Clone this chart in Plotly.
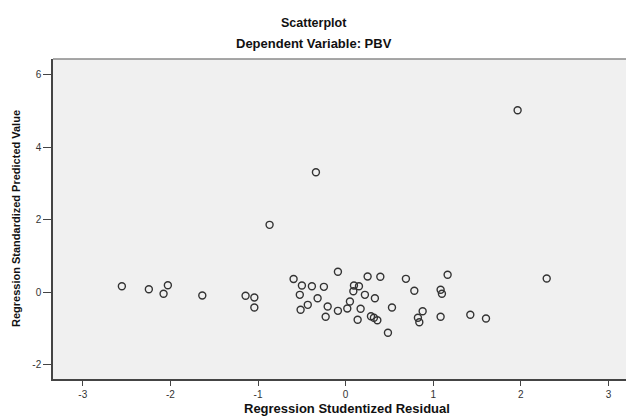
import plotly.graph_objects as go

# Regression Studentized Residual (x) and Regression Standardized Predicted Value (y)
residual = [-2.554, -2.246, -2.029, -2.078, -1.636, -1.142, -1.042, -1.042,
            -0.594, -0.499, -0.385, -0.248, -0.523, -0.320, -0.432, -0.514,
            -0.205, -0.228, -0.088, -0.088, 0.019, 0.049, 0.095, 0.152,
            0.088, 0.220, 0.251, 0.396, 0.334, 0.171, 0.137, 0.289,
            0.323, 0.362, 0.529, 0.483, 0.688, 0.784, 0.879, 0.825,
            0.841, 1.084, 1.099, 1.084, 1.164, 1.423, 1.602, 2.295,
            1.963, -0.339, -0.868]
predicted = [0.163, 0.080, 0.191, -0.047, -0.094, -0.102, -0.149, -0.425,
             0.362, 0.182, 0.163, 0.146, -0.075, -0.169, -0.351, -0.489,
             -0.398, -0.682, 0.561, -0.517, -0.453, -0.260, 0.182, 0.163,
             0.025, -0.075, 0.431, 0.423, -0.169, -0.461, -0.765, -0.666,
             -0.710, -0.776, -0.425, -1.124, 0.367, 0.036, -0.528, -0.710,
             -0.831, 0.064, -0.047, -0.682, 0.478, -0.627, -0.729, 0.376,
             5.025, 3.312, 1.859]

x_ticks = [-3, -2, -1, 0, 1, 2, 3]
x_tick_labels = ["-3", "-2", "-1", "0", "1", "2", "3"]
y_ticks = [-2, 0, 2, 4, 6]
y_tick_labels = ["-2", "0", "2", "4", "6"]

FONT = "Liberation Sans, Arial, sans-serif"

fig = go.Figure()
fig.add_trace(go.Scatter(
    x=residual, y=predicted, mode="markers",
    marker=dict(symbol="circle-open", size=7, color="#333333",
                line=dict(width=1.4, color="#333333")),
    hoverinfo="x+y", showlegend=False,
))

fig.update_layout(
    width=626, height=416,
    margin=dict(l=53, r=0, t=59, b=37),
    paper_bgcolor="white", plot_bgcolor="#f0f0f0",
    font=dict(family=FONT, color="#333333", size=9),
    xaxis=dict(range=[-3.34, 3.20], tickvals=x_ticks, ticktext=x_tick_labels,
               ticks="outside", ticklen=5,
               tickcolor="#444444", showgrid=False, zeroline=False,
               showline=True, linecolor="#444444", linewidth=1.5,
               tickfont=dict(size=10, color="#333333")),
    yaxis=dict(range=[-2.40, 6.44], tickvals=y_ticks, ticktext=y_tick_labels,
               ticks="outside", ticklen=8,
               tickcolor="#444444", showgrid=False, zeroline=False,
               showline=True, linecolor="#444444", linewidth=1.5,
               tickfont=dict(size=10, color="#333333")),
    annotations=[
        dict(text="<b>Scatterplot</b>", xref="paper", yref="paper", x=0.455, y=1.0,
             xanchor="center", yanchor="middle",
             yshift=36, showarrow=False, font=dict(size=12.5, color="#111111")),
        dict(text="<b>Dependent Variable: PBV</b>", xref="paper", yref="paper", x=0.455, y=1.0,
             xanchor="center", yanchor="middle",
             yshift=16, showarrow=False, font=dict(size=13, color="#111111")),
        dict(text="<b>Regression Studentized Residual</b>", xref="x", yref="paper", x=0.01, y=0,
             xanchor="center", yanchor="middle",
             yshift=-29, showarrow=False, font=dict(size=13, color="#111111")),
        dict(text="<b>Regression Standardized Predicted Value</b>", xref="paper", yref="paper",
             x=0, y=0.5, xanchor="center", yanchor="middle", xshift=-37, textangle=-90,
             showarrow=False, font=dict(size=11, color="#111111")),
    ],
    shapes=[dict(type="line", xref="paper", yref="paper", x0=0, x1=1, y0=1, y1=1,
                 line=dict(color="#8a8a8a", width=1.5))],
)

fig.write_html("out.html", config={"displayModeBar": False},
               post_script="document.body.style.margin='0';document.body.style.overflow='hidden';")
